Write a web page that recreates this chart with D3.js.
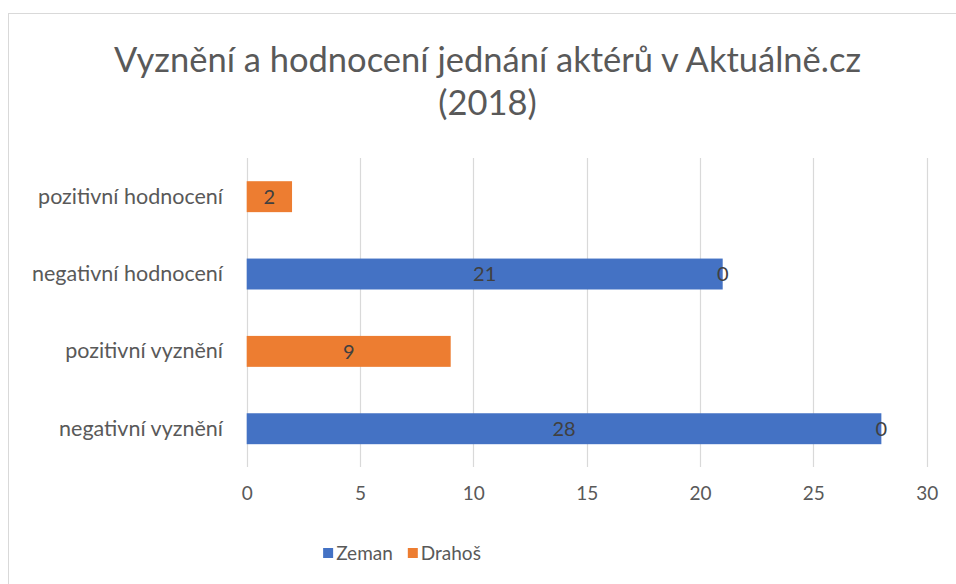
<!DOCTYPE html>
<html lang="cs">
<head>
<meta charset="utf-8">
<title>Vyznění a hodnocení</title>
<script src="https://cdn.jsdelivr.net/npm/d3@7"></script>
<style>
  body { margin: 0; background: #fff; }
  text { font-family: Lato, "Open Sans", sans-serif; }
</style>
</head>
<body>
<script>
// data, bottom to top as in the original
var categories = ["negativní vyznění", "pozitivní vyznění", "negativní hodnocení", "pozitivní hodnocení"];
var zeman = [28, null, 21, null];
var drahos = [0, 9, 0, 2];
var seriesNames = ["Zeman", "Drahoš"];
var colors = ["#4472C4", "#ED7D31"];
var ticks = [0, 5, 10, 15, 20, 25, 30];
var titleLines = ["Vyznění a hodnocení jednání aktérů v Aktuálně.cz", "(2018)"];

var w = 956, h = 584;
var svg = d3.select("body").append("svg")
  .attr("width", w)
  .attr("height", h);

// chart frame
svg.append("rect")
  .attr("x", 8.5).attr("y", 13.5)
  .attr("width", 970).attr("height", 600)
  .attr("fill", "#fff")
  .attr("stroke", "#d9d9d9");

svg.selectAll("text.title")
  .data(titleLines)
  .enter().append("text")
  .attr("class", "title")
  .attr("x", 487.5)
  .attr("y", function(d, i) { return 72 + i * 43; })
  .attr("text-anchor", "middle")
  .attr("font-size", "34.5px")
  .attr("fill", "#595959")
  .text(function(d) { return d; });

var x = d3.scaleLinear().domain([0, 30]).range([246.7, 926.7]);
var y = d3.scaleBand()
  .domain(categories.slice().reverse())
  .range([158, 467.4])
  .paddingInner(0.6)
  .paddingOuter(0.3);

// gridlines
svg.append("g").selectAll("line")
  .data(ticks)
  .enter().append("line")
  .attr("x1", function(d) { return Math.round(x(d)) + 0.5; })
  .attr("x2", function(d) { return Math.round(x(d)) + 0.5; })
  .attr("y1", 158).attr("y2", 467)
  .attr("stroke", "#d9d9d9")
  .attr("stroke-width", 1.2);

// x axis labels
var xAxis = svg.append("g")
  .attr("transform", "translate(0,486)")
  .call(d3.axisBottom(x).tickValues(ticks).tickSize(0).tickPadding(0));
xAxis.select(".domain").remove();
xAxis.selectAll("text")
  .attr("font-family", "Lato, sans-serif")
  .attr("font-size", "19px")
  .attr("fill", "#595959");

// category labels
var yAxis = svg.append("g")
  .attr("transform", "translate(223,0)")
  .call(d3.axisLeft(y).tickSize(0).tickPadding(0));
yAxis.select(".domain").remove();
yAxis.selectAll("text")
  .attr("font-family", "Lato, sans-serif")
  .attr("font-size", "21.5px")
  .attr("fill", "#595959");

// stacked bars
var rows = categories.map(function(c, i) {
  return { cat: c, Zeman: zeman[i] || 0, "Drahoš": drahos[i] || 0, raw: [zeman[i], drahos[i]] };
});
var stacked = d3.stack().keys(seriesNames)(rows);

var groups = svg.selectAll("g.series")
  .data(stacked)
  .enter().append("g")
  .attr("class", "series")
  .attr("fill", function(d, i) { return colors[i]; });

groups.selectAll("rect")
  .data(function(d) { return d; })
  .enter().append("rect")
  .attr("x", function(d) { return x(d[0]); })
  .attr("y", function(d) { return y(d.data.cat); })
  .attr("width", function(d) { return x(d[1]) - x(d[0]); })
  .attr("height", y.bandwidth());

// data labels
groups.each(function(s, si) {
  d3.select(this).selectAll("text")
    .data(s.filter(function(d) { return d.data.raw[si] != null; }))
    .enter().append("text")
    .attr("x", function(d) { return x((d[0] + d[1]) / 2); })
    .attr("y", function(d) { return y(d.data.cat) + y.bandwidth() / 2; })
    .attr("dy", "0.36em")
    .attr("text-anchor", "middle")
    .attr("font-size", "20px")
    .attr("fill", "#404040")
    .text(function(d) { return d.data.raw[si]; });
});

// legend, laid out from the text widths
var legend = svg.append("g").attr("transform", "translate(0,548)");
var items = legend.selectAll("g")
  .data(seriesNames)
  .enter().append("g");
items.append("rect")
  .attr("width", 10).attr("height", 10)
  .attr("fill", function(d, i) { return colors[i]; });
items.append("text")
  .attr("x", 13).attr("y", 5)
  .attr("dy", "0.36em")
  .attr("font-size", "19px")
  .attr("fill", "#595959")
  .text(function(d) { return d; });
var offs = [], cur = 0;
items.each(function() {
  offs.push(cur);
  cur += 13 + d3.select(this).select("text").node().getComputedTextLength() + 15;
});
var total = cur - 15, start = 402 - total / 2;
items.attr("transform", function(d, i) { return "translate(" + (start + offs[i]) + ",0)"; });
</script>
</body>
</html>
